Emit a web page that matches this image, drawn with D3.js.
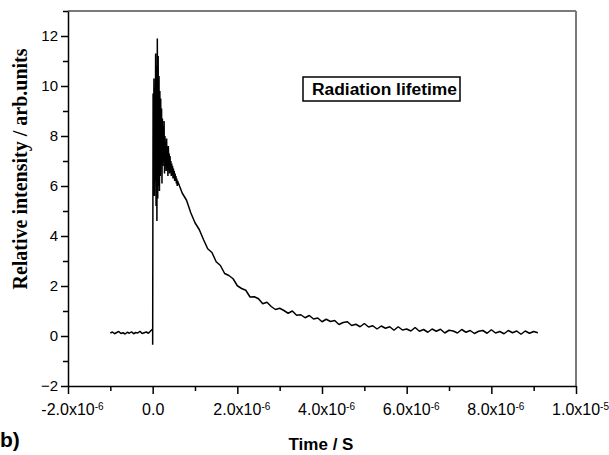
<!DOCTYPE html>
<html>
<head>
<meta charset="utf-8">
<script src="https://cdn.jsdelivr.net/npm/d3@7"></script>
<style>
body { margin: 0; background: #fff; }
text { font-family: "Liberation Sans", Arial, sans-serif; fill: #000; }
</style>
</head>
<body>
<div id="chart"></div>
<script>
// time in microseconds, sampled uniformly inside each segment
var baseline_start = -1.0, baseline_step = 0.05;
var baseline_values = [0.12, 0.16, 0.09, 0.14, 0.18, 0.1, 0.13, 0.08, 0.15, 0.11, 0.17,
                       0.09, 0.14, 0.12, 0.19, 0.1, 0.13, 0.16, 0.11, 0.2, 0.28];

var spike_start = 0.0, spike_step = 0.01;
var spike_values = [-0.35, 9.7, 6.8, 10.3, 5.6, 9.9, 6.2, 11.3, 5.2, 10.8,
                    4.6, 11.9, 5.5, 11.2, 6.0, 10.4, 5.8, 9.8, 6.4, 9.5,
                    6.9, 9.1, 6.1, 8.7, 6.8, 8.4, 7.0, 8.6, 6.5, 8.0,
                    7.1, 7.7, 6.6, 7.9, 6.8, 7.5, 6.4, 7.6, 6.9, 7.3,
                    6.5, 7.2, 6.7, 7.0, 6.4, 6.9, 6.5, 6.8, 6.3, 6.7,
                    6.4, 6.6, 6.2, 6.5, 6.3, 6.4, 6.1, 6.3, 6.0, 6.2];

var decay_start = 0.6, decay_step = 0.1;
var decay_values = [6.15, 5.71, 5.43, 4.93, 4.53, 4.26, 3.86, 3.49, 3.34, 2.97,
                    2.82, 2.5, 2.42, 2.29, 2.01, 1.9, 1.83, 1.56, 1.57, 1.49,
                    1.29, 1.35, 1.18, 1.06, 1.11, 1.02, 0.91, 1.0, 0.83, 0.85,
                    0.73, 0.82, 0.68, 0.72, 0.57, 0.67, 0.58, 0.62, 0.46, 0.54,
                    0.57, 0.42, 0.47, 0.37, 0.5, 0.36, 0.41, 0.28, 0.4, 0.31,
                    0.37, 0.23, 0.37, 0.24, 0.28, 0.2, 0.34, 0.19, 0.26, 0.15,
                    0.28, 0.19, 0.27, 0.12, 0.23, 0.2, 0.12, 0.26, 0.15, 0.22,
                    0.1, 0.19, 0.22, 0.11, 0.25, 0.12, 0.18, 0.09, 0.22, 0.13,
                    0.2, 0.07, 0.2, 0.11, 0.18, 0.13];

var x_major = [-2e-6, 0, 2e-6, 4e-6, 6e-6, 8e-6, 1e-5];
var x_minor = [-1e-6, 1e-6, 3e-6, 5e-6, 7e-6, 9e-6];
var x_labels = [["-2.0x10", "-6"], ["0.0", ""], ["2.0x10", "-6"], ["4.0x10", "-6"],
                ["6.0x10", "-6"], ["8.0x10", "-6"], ["1.0x10", "-5"]];
var y_major = [-2, 0, 2, 4, 6, 8, 10, 12];
var y_minor = [-1, 1, 3, 5, 7, 9, 11, 13];

function segment(start, step, values) {
    return values.map(function(v, i) { return {t: (start + i * step) * 1e-6, v: v}; });
}
var points = segment(baseline_start, baseline_step, baseline_values)
    .concat(segment(spike_start, spike_step, spike_values))
    .concat(segment(decay_start, decay_step, decay_values));

var svg = d3.select("#chart").append("svg")
            .attr("width", 609)
            .attr("height", 455);
var margin = {top: 11, right: 33, bottom: 69, left: 68};
var width  = 609 - margin.left - margin.right;
var height = 455 - margin.top - margin.bottom;

var g = svg.append("g")
           .attr("transform", "translate(" + margin.left + "," + margin.top + ")");

var x = d3.scaleLinear().domain([-2e-6, 1e-5]).range([0, width]);
var y = d3.scaleLinear().domain([-2, 13]).range([height, 0]);

// grey top and right frame
g.append("line").attr("x1", 0).attr("x2", width).attr("y1", 0).attr("y2", 0)
 .attr("stroke", "#7a7a7a").attr("stroke-width", 2);
g.append("line").attr("x1", width).attr("x2", width).attr("y1", 0).attr("y2", height)
 .attr("stroke", "#7a7a7a").attr("stroke-width", 2);

// minor ticks
g.append("g").attr("transform", "translate(0," + height + ")")
 .call(d3.axisBottom(x).tickValues(x_minor).tickSize(5).tickFormat(""))
 .call(a => a.select(".domain").remove());
g.append("g")
 .call(d3.axisLeft(y).tickValues(y_minor).tickSize(5).tickFormat(""))
 .call(a => a.select(".domain").remove());

// major axes
var x_axis = g.append("g").attr("transform", "translate(0," + height + ")")
              .call(d3.axisBottom(x).tickValues(x_major).tickSize(8).tickSizeOuter(0)
                    .tickFormat(function(d, i) { return x_labels[i][0]; }));
x_axis.selectAll("text")
      .attr("y", 18)
      .style("font-size", "16px")
      .append("tspan")
      .attr("dy", "-0.55em")
      .style("font-size", "10px")
      .text(function(d, i) { return x_labels[i][1]; });
x_axis.selectAll("text").attr("dx", function(d, i) { return x_labels[i][1] ? "4" : "0"; });

var y_axis = g.append("g")
              .call(d3.axisLeft(y).tickValues(y_major).tickSize(7).tickSizeOuter(0));
y_axis.selectAll("text").style("font-size", "15px").attr("x", -10);

svg.selectAll(".domain, .tick line").attr("stroke", "#000").attr("stroke-width", 1.5);

// trace
g.append("path")
 .datum(points)
 .attr("fill", "none")
 .attr("stroke", "#000")
 .attr("stroke-width", 1.5)
 .attr("stroke-linejoin", "bevel")
 .attr("d", d3.line().x(d => x(d.t)).y(d => y(d.v)));

// legend box
g.append("rect")
 .attr("x", 235).attr("y", 66).attr("width", 157).attr("height", 24)
 .attr("fill", "#fff").attr("stroke", "#000").attr("stroke-width", 1.5);
g.append("text")
 .attr("x", 244).attr("y", 84)
 .attr("textLength", 145).attr("lengthAdjust", "spacingAndGlyphs")
 .style("font-size", "16px").style("font-weight", "bold")
 .text("Radiation lifetime");

// axis titles
svg.append("text")
   .attr("transform", "translate(27,169) rotate(-90)")
   .attr("text-anchor", "middle")
   .style("font-family", "'Liberation Serif', 'Times New Roman', serif")
   .style("font-size", "20px").style("font-weight", "bold")
   .text("Relative intensity / arb.units");

svg.append("text")
   .attr("x", 321).attr("y", 450)
   .attr("text-anchor", "middle")
   .style("font-size", "17px").style("font-weight", "bold")
   .text("Time / S");

svg.append("text")
   .attr("x", 0).attr("y", 447)
   .style("font-size", "21px").style("font-weight", "bold")
   .text("b)");
</script>
</body>
</html>
